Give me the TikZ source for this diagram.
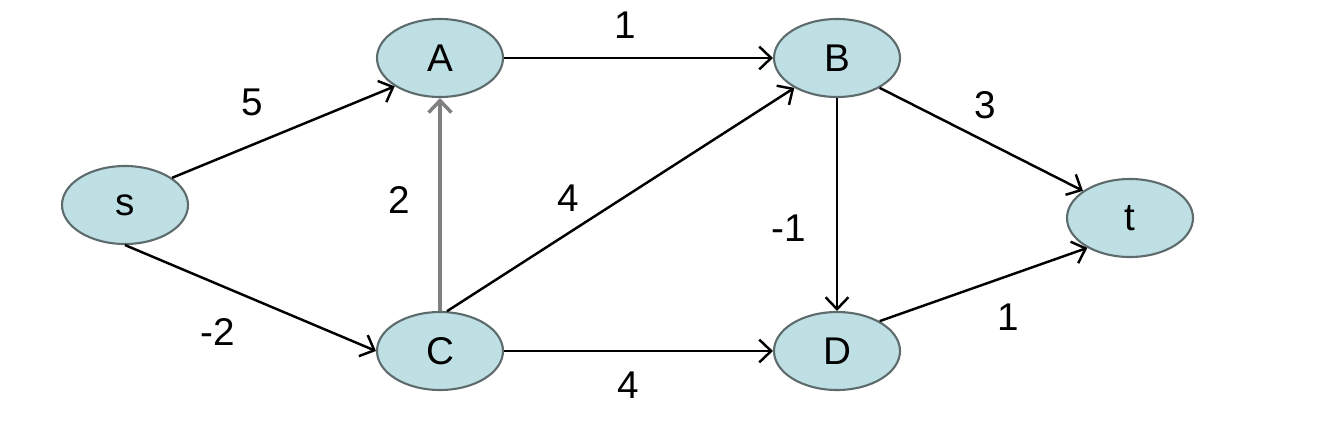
\documentclass[tikz,border=0pt]{standalone}
\usepackage{fontspec}
\setmainfont{Liberation Sans}
\usepackage{tikz}
\usetikzlibrary{arrows.meta,shapes.geometric}
\definecolor{vfill}{HTML}{BEE0E5}
\definecolor{vline}{HTML}{5E6B6D}
\tikzset{
  vtx/.style={draw=vline, ellipse, fill=vfill, line width=0.6pt,
              minimum width=1.26cm, minimum height=0.78cm, inner sep=0pt,
              font=\fontsize{11}{13}\selectfont},
  sig/.style={-{Straight Barb[length=3.4pt,width=6.5pt]}, line width=0.7pt},
  sigg/.style={sig, draw=black!50, line width=1pt},
  lbl/.style={font=\fontsize{11}{13}\selectfont, inner sep=0pt},
}
\begin{document}
\begin{tikzpicture}
    \useasboundingbox (0,0) rectangle (13.42,-4.30);
    \node[vtx] (s) at (1.25,-2.05) {s};
    \node[vtx] (A) at (4.40,-0.58) {A};
    \node[vtx] (B) at (8.37,-0.58) {B};
    \node[vtx] (C) at (4.40,-3.51) {C};
    \node[vtx] (D) at (8.37,-3.51) {D};
    \node[vtx] (t) at (11.30,-2.18) {t};
    \draw[sig] (s.30) -- node[lbl,pos=0.36,above=0.28cm]{5} (A.212);
    \draw[sig] (s.south) -- node[lbl,pos=0.37,below=0.33cm]{-2} (C.west);
    \draw[sig] (A.east) -- node[lbl,pos=0.45,above=0.18cm]{1} (B.west);
    \draw[sigg] (C.north) -- node[lbl,pos=0.52,left=0.28cm]{2} (A.south);
    \draw[sig] (C.80) -- node[lbl,pos=0.35,above=0.2cm]{4} (B.215);
    \draw[sig] (C.east) -- node[lbl,pos=0.46,below=0.2cm]{4} (D.west);
    \draw[sig] (B.south) -- node[lbl,pos=0.61,left=0.3cm]{-1} (D.north);
    \draw[sig] (B.-35) -- node[lbl,pos=0.52,above=0.21cm]{3} (t.150);
    \draw[sig] (D.35) -- node[lbl,pos=0.62,below=0.27cm]{1} (t.215);
\end{tikzpicture}
\end{document}
